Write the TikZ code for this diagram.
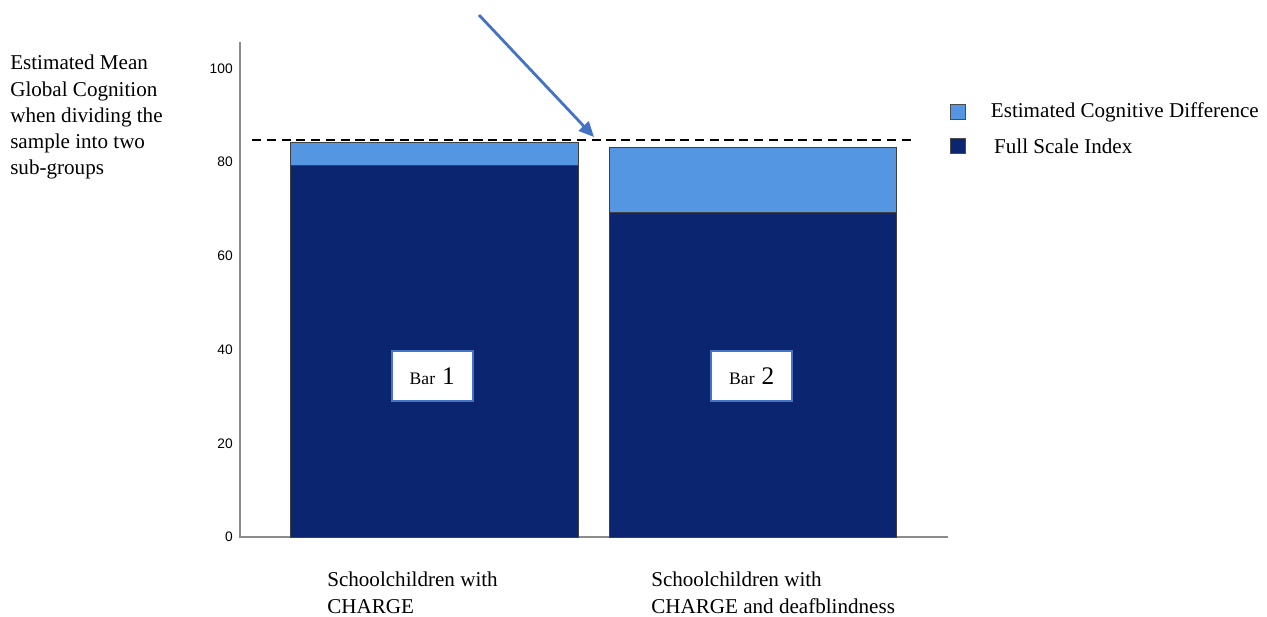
\documentclass[tikz,border=0pt]{standalone}
\usepackage{fontspec}
\setmainfont{Liberation Serif}
\newfontfamily\axisfont{Liberation Sans}
\usetikzlibrary{positioning,arrows.meta}

\definecolor{fsiblue}{HTML}{0B2570}
\definecolor{diffblue}{HTML}{5596E2}
\definecolor{arrowblue}{HTML}{4472C4}
\definecolor{axisgray}{HTML}{8C8C8C}

\tikzset{
  txt/.style={inner sep=0pt, align=left, font=\fontsize{15}{18.6}\selectfont},
  ticklabel/.style={anchor=east, inner sep=0pt, font=\axisfont\fontsize{9.8}{11}\selectfont},
  barpart/.style={draw=black!75, line width=0.5pt},
  barlabel/.style={draw=arrowblue, line width=1.3pt, fill=white, minimum width=2.02cm, minimum height=1.27cm, inner sep=0pt},
  legsq/.style={draw=black!70, line width=0.6pt, minimum size=0.37cm, inner sep=0pt}
}

\begin{document}
\begin{tikzpicture}[x=0.025cm, y=-0.025cm]
\useasboundingbox (0,0) rectangle (1267,617);
% axes
\draw[axisgray, line width=1pt] (240,42) -- (240,537) -- (948,537);
\foreach \v in {0,20,...,100}{\node[ticklabel] (tick\v) at (233,{537-4.685*\v}) {\v};}
% stacked bars
\foreach \xa/\xb/\fsi/\total [count=\i] in {290.5/578/79.4/84.3, 609/896.5/69.4/83.2}{
  \draw[barpart, fill=fsiblue] (\xa,537) rectangle (\xb,{537-4.685*\fsi});
  \draw[barpart, fill=diffblue] (\xa,{537-4.685*\fsi}) rectangle (\xb,{537-4.685*\total});
  \node[barlabel] (bar\i) at ({(\xa+\xb)/2+\i-3},376) {{\fontsize{12.5}{14}\selectfont Bar}\hspace{0.5em}{\fontsize{18}{18}\selectfont \i}};}
% reference line and arrow
\draw[black, line width=1.4pt, dash pattern=on 6.5pt off 4pt] (252,140) -- (916,140);
\coordinate (arrowtail) at (479,15);
\coordinate (arrowtip) at (594,137);
\draw[arrowblue, line width=2pt, -{Triangle[length=0.38cm, width=0.34cm]}] (arrowtail) -- (arrowtip);
% legend
\node[legsq, fill=diffblue] (legdiff) at (958,112) {};
\node[legsq, fill=fsiblue] (legfsi) at (958,146) {};
\node[txt, anchor=west, right=0.62cm of legdiff] (legdifftext) {Estimated Cognitive Difference};
\node[txt, anchor=west, right=0.7cm of legfsi] (legfsitext) {Full Scale Index};
% texts
\node[txt, anchor=north west] (ytitle) at (10,55) {Estimated Mean\\Global Cognition\\when dividing the\\sample into two\\sub-groups};
\node[txt, anchor=north west] (cat1) at (327,572) {Schoolchildren with\\CHARGE};
\node[txt, anchor=north west] (cat2) at (651,572) {Schoolchildren with\\CHARGE and deafblindness};
\end{tikzpicture}
\end{document}
